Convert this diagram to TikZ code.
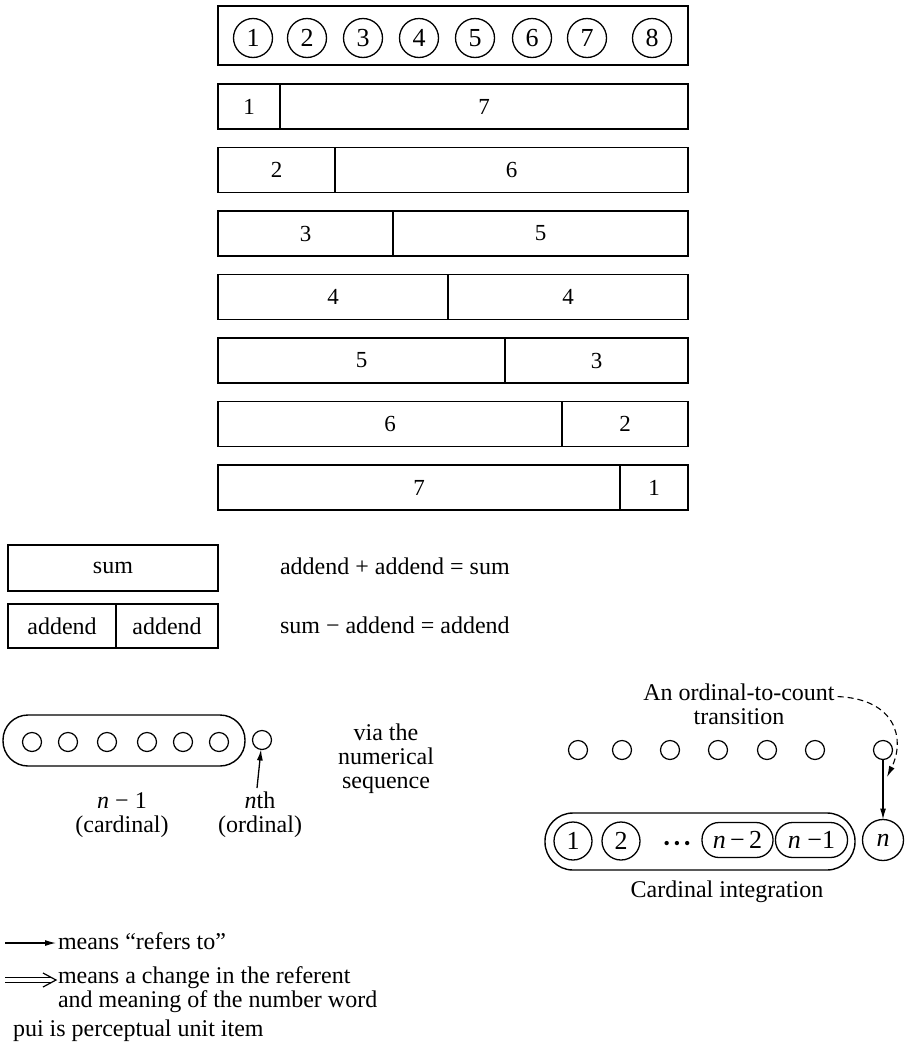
\documentclass[tikz,border=0pt]{standalone}
\usepackage{fontspec}
\setmainfont{Liberation Serif}
\usetikzlibrary{arrows.meta}
\begin{document}
\begin{tikzpicture}[x=1pt,y=-1pt,
  every node/.style={inner sep=0pt, outer sep=0pt},
  txt/.style={font=\fontsize{24}{24}\selectfont},
  big/.style={font=\fontsize{26}{26}\selectfont},
  lw/.style={line width=1.4pt},
  box/.style={draw, lw, anchor=north west, minimum height=45pt, font=\fontsize{23}{23}\selectfont},
  numc/.style={draw, circle, line width=1.3pt, minimum size=39pt, big},
  dotc/.style={draw, circle, line width=1.2pt, minimum size=19pt},
  pill/.style={draw, rectangle, rounded corners=17pt, line width=1.3pt, minimum height=35pt, big},
  refarrow/.style={line width=1.3pt, -{Latex[length=11pt,width=6pt]}},
]
\useasboundingbox (0,0) rectangle (905,1042);

% top box with numbered circles
\node[draw, lw, anchor=north west, minimum width=470pt, minimum height=59pt] (topbox) at (218,6) {};
\foreach \i/\x in {1/253,2/307,3/363,4/419,5/475,6/532,7/587,8/652}
  \node[numc] (t\i) at (\x,38) {\i};

% part-whole bars
\foreach \k/\yt/\d/\a/\b in {1/84/280/1/7, 2/147.5/335/2/6, 3/211/393/3/5, 4/274.5/448/4/4,
                              5/338/505/5/3, 6/401.5/562/6/2, 7/465/620/7/1} {
  \node[box, minimum width={\d-218}] (bl\k) at (218,\yt) {\a};
  \node[box, minimum width={688-\d}] (br\k) at (\d,\yt) {\b};
}

% sum / addend
\node[draw, lw, anchor=north west, minimum width=210pt, minimum height=46pt, txt] (sum) at (8,545) {sum};
\node[draw, lw, anchor=north west, minimum width=108pt, minimum height=44pt, txt] (ad1) at (8,604) {addend};
\node[draw, lw, anchor=north west, minimum width=102pt, minimum height=44pt, txt] (ad2) at (116,604) {addend};
\node[txt, anchor=base west] (eq1) at (280,574) {addend + addend = sum};
\node[txt, anchor=base west] (eq2) at (280,633) {sum − addend = addend};

% lower left: cardinal n-1 and nth ordinal
\node[draw, lw, rounded corners=25pt, minimum width=242pt, minimum height=51pt] (cardset) at (124,740.5) {};
\foreach \i/\x in {1/32,2/68,3/107,4/147,5/183,6/219}
  \node[dotc] (l\i) at (\x,742) {};
\node[dotc] (lnth) at (262,740) {};
\coordinate (nthtail) at (257,788);
\draw[refarrow] (nthtail) -- (lnth);
\node[txt, align=center] (cardlab) at (122,815) {\textit{n} − 1\\(cardinal)};
\node[txt, align=center] (ordlab) at (260,815) {\textit{n}th\\(ordinal)};
\node[txt, align=center] (via) at (386,759) {via the\\numerical\\sequence};

% lower right: ordinal-to-count transition
\foreach \i/\x in {1/578,2/622,3/670,4/718,5/767,6/815,7/883}
  \node[dotc] (r\i) at (\x,750) {};
\node[txt, align=center] (trans) at (739,704) {An ordinal-to-count\\transition};
\node[draw, circle, line width=1.3pt, minimum size=41pt, big] (ncirc) at (883,840) {\textit{n}};
\draw[refarrow] (r7) -- (ncirc);
\coordinate (dashend) at (887,777);
\draw[line width=1.1pt, dash pattern=on 6pt off 4pt, -{Latex[length=11pt,width=6pt]}]
  ([xshift=3pt,yshift=-13pt]trans.north east) .. controls (895,699) and (906,738) .. (dashend);

\node[draw, lw, rounded corners=28pt, minimum width=310pt, minimum height=57pt] (cardint) at (700,841.5) {};
\node[numc, minimum size=38pt] (i1) at (573,841) {1};
\node[numc, minimum size=38pt] (i2) at (621,841) {2};
\node[font=\fontsize{18}{18}\selectfont] (idots) at (677,845) {•\hspace{4pt}•\hspace{4pt}•};
\node[pill, minimum width=71pt] (nm2) at (737.5,840) {\textit{n}\,−\,2};
\node[pill, minimum width=72pt] (nm1) at (811.5,840) {\textit{n} −1};
\node[txt, anchor=base] (cilab) at (727,897) {Cardinal integration};

% legend
\coordinate (la1) at (5,943);
\coordinate (la2) at (56,943);
\draw[line width=1.2pt, -{Latex[length=11pt,width=6pt]}] (la1) -- (la2);
\node[txt, anchor=base west] (leg1) at (58,949) {means “refers to”};
\coordinate (lb1) at (5,980);
\coordinate (lb2) at (56,980);
\draw[double, double distance=4pt, line width=1pt] (lb1) -- ([xshift=-4pt]lb2);
\draw[line width=1.2pt] ([xshift=-13pt,yshift=7pt]lb2) -- (lb2) -- ([xshift=-13pt,yshift=-7pt]lb2);
\node[txt, align=left, anchor=west] (leg2) at (58,990) {means a change in the referent\\and meaning of the number word};
\node[txt, anchor=base west] (leg3) at (13,1036) {pui is perceptual unit item};
\end{tikzpicture}
\end{document}
